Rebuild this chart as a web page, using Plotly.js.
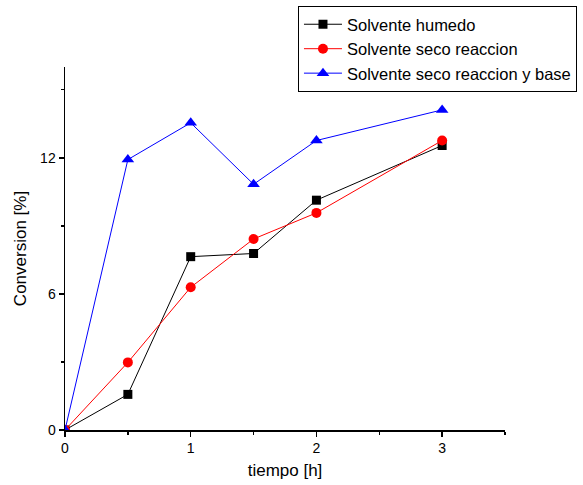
<!DOCTYPE html>
<html>
<head>
<meta charset="utf-8">
<script src="https://cdn.plot.ly/plotly-3.0.1.min.js"></script>
<style>html,body{margin:0;padding:0;background:#fff;}#chart{width:583px;height:485px;}</style>
</head>
<body>
<div id="chart"></div>
<script>
const tiempo = [0, 0.5, 1, 1.5, 2, 3];
const humedo = [0, 1.57, 7.64, 7.78, 10.13, 12.54];
const secoReaccion = [0, 2.98, 6.29, 8.42, 9.57, 12.76];
const secoReaccionBase = [0, 11.92, 13.54, 10.83, 12.76, 14.11];
const seriesNames = ["Solvente humedo", "Solvente seco reaccion", "Solvente seco reaccion y base"];

const font = "Liberation Sans, Arial, sans-serif";
const traces = [
  {x: tiempo, y: humedo, name: seriesNames[0], mode: "lines+markers",
   line: {color: "#000000", width: 1}, marker: {symbol: "square", size: 9, color: "#000000"}},
  {x: tiempo, y: secoReaccion, name: seriesNames[1], mode: "lines+markers",
   line: {color: "#ff0000", width: 1}, marker: {symbol: "circle", size: 10, color: "#ff0000"}},
  {x: tiempo, y: secoReaccionBase, name: seriesNames[2], mode: "lines+markers",
   line: {color: "#0000ff", width: 1}, marker: {symbol: "triangle-up", size: 11, color: "#0000ff"}}
];
const layout = {
  width: 583, height: 485,
  margin: {l: 65, r: 78, t: 67, b: 55, autoexpand: false},
  paper_bgcolor: "#fff", plot_bgcolor: "#fff",
  font: {family: font, size: 14, color: "#000"},
  showlegend: true,
  legend: {x: 0.5295, xanchor: "left", y: 1.168, yanchor: "top",
           bgcolor: "#fff", bordercolor: "#000", borderwidth: 1,
           font: {family: font, size: 16.5}, tracegroupgap: 0, itemwidth: 38},
  xaxis: {range: [0, 3.5], tickvals: [0, 1, 2, 3], ticktext: ["0","1","2","3"],
          showline: true, linecolor: "#000", linewidth: 1.5, mirror: false,
          ticks: "outside", ticklen: 5, tickwidth: 1.5, tickcolor: "#000",
          showgrid: false, zeroline: false, automargin: false,
          minor: {tickvals: [0.5, 1.5, 2.5, 3.5], ticks: "outside", ticklen: 3, tickwidth: 1.5, tickcolor: "#000", showgrid: false},
          title: {text: "tiempo [h]", font: {family: font, size: 17}, standoff: 9},
          tickfont: {family: font, size: 14}},
  yaxis: {range: [0, 16], tickvals: [0, 6, 12], ticktext: ["0","6","12"],
          showline: true, linecolor: "#000", linewidth: 1.5, mirror: false,
          ticks: "outside", ticklen: 5, tickwidth: 1.5, tickcolor: "#000",
          showgrid: false, zeroline: false, automargin: false,
          minor: {tickvals: [3, 9, 15], ticks: "outside", ticklen: 3, tickwidth: 1.5, tickcolor: "#000", showgrid: false},
          title: {text: "Conversion [%]", font: {family: font, size: 17}, standoff: 9},
          tickfont: {family: font, size: 14}}
};
Plotly.newPlot("chart", traces, layout, {displayModeBar: false, staticPlot: true});
</script>
</body>
</html>
